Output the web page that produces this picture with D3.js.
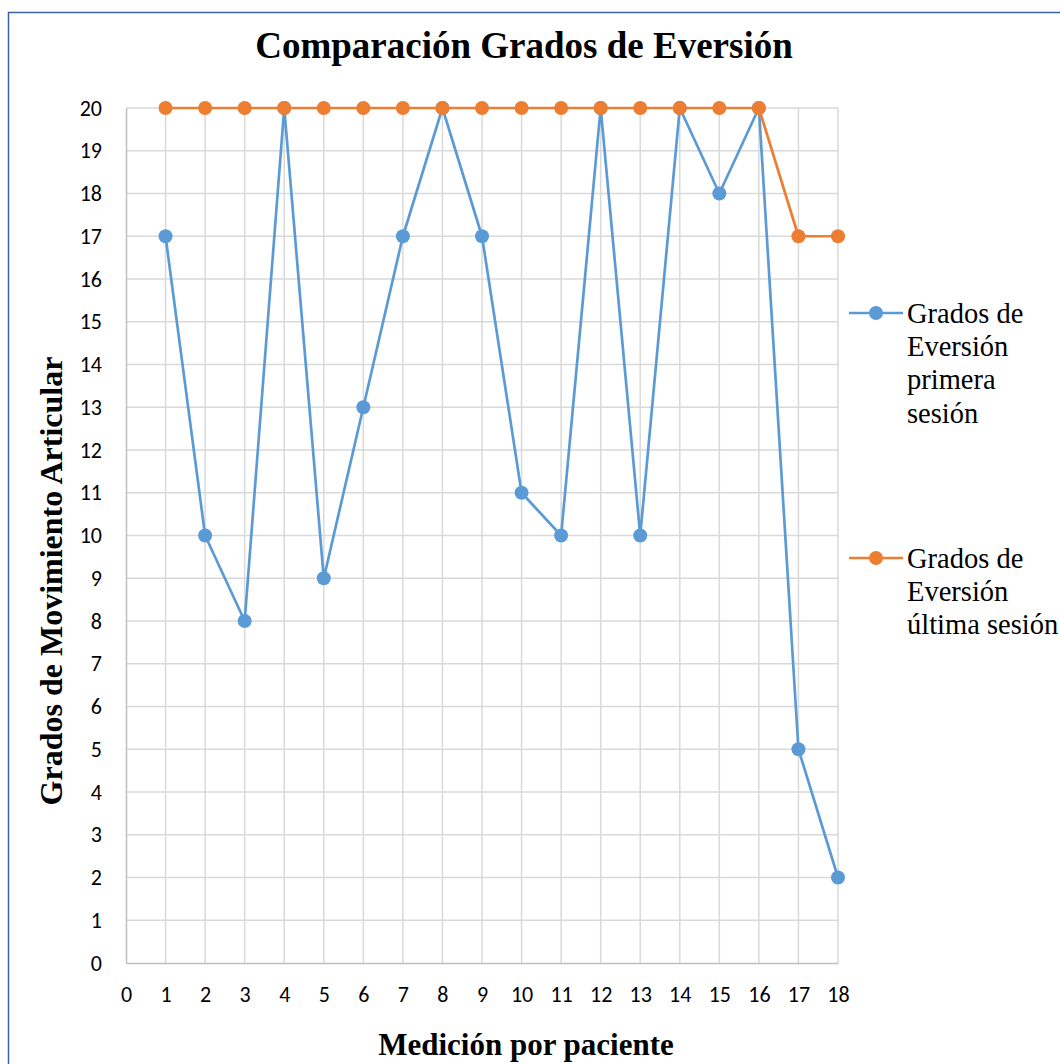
<!DOCTYPE html>
<html>
<head>
<meta charset="utf-8">
<script src="https://cdn.jsdelivr.net/npm/d3@7"></script>
<style>
  html, body { margin: 0; padding: 0; background: #fff; }
  svg { display: block; }
</style>
</head>
<body>
<svg id="chart" width="1060" height="1064"></svg>
<script>
// Patients measured (x) and range of motion per session (y)
const patients = [1, 2, 3, 4, 5, 6, 7, 8, 9, 10, 11, 12, 13, 14, 15, 16, 17, 18];
const firstSession = [17, 10, 8, 20, 9, 13, 17, 20, 17, 11, 10, 20, 10, 20, 18, 20, 5, 2];
const lastSession = [20, 20, 20, 20, 20, 20, 20, 20, 20, 20, 20, 20, 20, 20, 20, 20, 17, 17];
const xTicks = d3.range(0, 19);
const yTicks = d3.range(0, 21);
const seriesNames = [
  ["Grados de", "Eversión", "primera", "sesión"],
  ["Grados de", "Eversión", "última sesión"]
];
const colors = ["#5B9BD5", "#ED7D31"];

const svg = d3.select("#chart");
const serif = "'Liberation Serif', 'Times New Roman', serif";
const sans = "Carlito, Calibri, Lato, 'Noto Sans', sans-serif";

// Outer chart frame
svg.append("rect")
  .attr("x", 8.5).attr("y", 12.5)
  .attr("width", 1060).attr("height", 1060)
  .attr("fill", "none").attr("stroke", "#3A62A7").attr("stroke-width", 1.5);

const x = d3.scaleLinear().domain([0, 18]).range([126, 838]);
const y = d3.scaleLinear().domain([0, 20]).range([963, 108]);

// Gridlines
const grid = svg.append("g");
grid.selectAll("line.v").data(xTicks.slice(1)).join("line")
  .attr("x1", d => x(d)).attr("x2", d => x(d))
  .attr("y1", y(0)).attr("y2", y(20))
  .attr("stroke", "#D9D9D9").attr("stroke-width", 1.5);
grid.selectAll("line.h").data(yTicks.slice(1)).join("line")
  .attr("x1", x(0)).attr("x2", x(18))
  .attr("y1", d => y(d)).attr("y2", d => y(d))
  .attr("stroke", "#D9D9D9").attr("stroke-width", 1.5);

// Axes
const xAxis = svg.append("g")
  .attr("transform", `translate(0,${y(0)})`)
  .call(d3.axisBottom(x).tickValues(xTicks).tickSize(0).tickPadding(23));
const yAxis = svg.append("g")
  .attr("transform", `translate(${x(0)},0)`)
  .call(d3.axisLeft(y).tickValues(yTicks).tickSize(0).tickPadding(24));
[xAxis, yAxis].forEach(g => {
  g.select(".domain").attr("stroke", "#BFBFBF").attr("stroke-width", 1.5);
  g.selectAll("text")
    .style("font-family", sans).style("font-size", "22px").attr("fill", "#000");
});

// Series lines and markers
const line = d3.line().x((d, i) => x(patients[i])).y(d => y(d));
[firstSession, lastSession].forEach((vals, s) => {
  const g = svg.append("g");
  g.append("path").datum(vals)
    .attr("d", line)
    .attr("fill", "none").attr("stroke", colors[s])
    .attr("stroke-width", 2.7).attr("stroke-linejoin", "round");
  g.selectAll("circle").data(vals).join("circle")
    .attr("cx", (d, i) => x(patients[i])).attr("cy", d => y(d))
    .attr("r", 7).attr("fill", colors[s]);
});

// Titles
svg.append("text")
  .attr("x", 524).attr("y", 58).attr("text-anchor", "middle")
  .style("font-family", serif).style("font-weight", "bold").style("font-size", "37px")
  .text("Comparación Grados de Eversión");
svg.append("text")
  .attr("x", 526).attr("y", 1055).attr("text-anchor", "middle")
  .style("font-family", serif).style("font-weight", "bold").style("font-size", "31px")
  .text("Medición por paciente");
svg.append("text")
  .attr("transform", "translate(62,581) rotate(-90)").attr("text-anchor", "middle")
  .style("font-family", serif).style("font-weight", "bold").style("font-size", "32px")
  .text("Grados de Movimiento Articular");

// Legend
const legendY = [313, 558];
seriesNames.forEach((lines, s) => {
  const g = svg.append("g").attr("transform", `translate(0,${legendY[s]})`);
  g.append("line").attr("x1", 849).attr("x2", 903).attr("y1", 0).attr("y2", 0)
    .attr("stroke", colors[s]).attr("stroke-width", 2.7);
  g.append("circle").attr("cx", 876).attr("cy", 0).attr("r", 7).attr("fill", colors[s]);
  const t = g.append("text")
    .style("font-family", serif).style("font-size", "28.5px").attr("fill", "#000");
  lines.forEach((ln, i) => {
    t.append("tspan").attr("x", 907).attr("y", 10 + i * 33.2).text(ln);
  });
});
</script>
</body>
</html>
